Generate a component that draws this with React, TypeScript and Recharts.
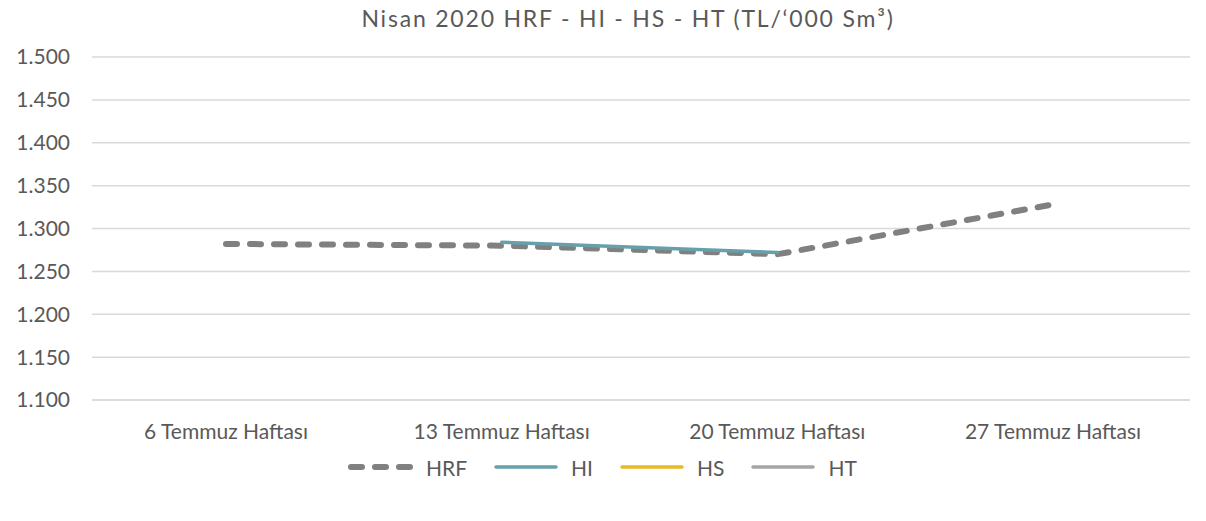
import { LineChart, Line, XAxis, YAxis, CartesianGrid } from 'recharts'

const haftalar = ['6 Temmuz Haftası', '13 Temmuz Haftası', '20 Temmuz Haftası', '27 Temmuz Haftası']
const hrf = [1282, 1280, 1270, 1328]
const hi = [null, 1284, 1272, null]
const hs: (number | null)[] = [null, null, null, null]
const ht: (number | null)[] = [null, null, null, null]
const yTicks = [1100, 1150, 1200, 1250, 1300, 1350, 1400, 1450, 1500]

const seriler = [
  { key: 'HRF', renk: '#808080', kesik: true },
  { key: 'HI', renk: '#66a0ab', kesik: false },
  { key: 'HS', renk: '#e8bb22', kesik: false },
  { key: 'HT', renk: '#a5a5a5', kesik: false },
]

const datos = haftalar.map((h, i) => ({ hafta: h, HRF: hrf[i], HI: hi[i], HS: hs[i], HT: ht[i] }))

const FONT = 'Lato, "Open Sans", sans-serif'
const GRIS = '#595959'

const fmt = (v: number) => v.toLocaleString('de-DE')

export default function App() {
  return (
    <div style={{ position: 'absolute', left: 0, top: 0, width: 1206, height: 521, background: '#fff', fontFamily: FONT }}>
      <div
        style={{
          position: 'absolute',
          top: 4,
          left: 0,
          width: 1256,
          textAlign: 'center',
          fontSize: 23,
          letterSpacing: 1.8,
          color: GRIS,
        }}
      >
        Nisan 2020 HRF - HI - HS - HT (TL/‘000 Sm³)
      </div>
      <LineChart width={1206} height={521} data={datos} margin={{ top: 57, right: 16, bottom: 81, left: 0 }}>
        <CartesianGrid vertical={false} stroke="#d9d9d9" strokeWidth={1.5} />
        <XAxis
          dataKey="hafta"
          height={40}
          padding={{ left: 134, right: 137 }}
          axisLine={{ stroke: '#d9d9d9', strokeWidth: 1.5 }}
          tickLine={false}
          tickMargin={18}
          interval={0}
          tick={{ fill: GRIS, fontSize: 21, fontFamily: FONT }}
        />
        <YAxis
          width={92}
          domain={[1100, 1500]}
          ticks={yTicks}
          axisLine={false}
          tickLine={false}
          tickMargin={16}
          tickFormatter={fmt}
          tick={{ fill: GRIS, fontSize: 21, fontFamily: FONT }}
        />
        {seriler.map((s) => (
          <Line
            key={s.key}
            dataKey={s.key}
            type="linear"
            stroke={s.renk}
            strokeWidth={s.kesik ? 6 : 3.5}
            strokeDasharray={s.kesik ? '11 13' : undefined}
            strokeLinecap="round"
            dot={false}
            activeDot={false}
            isAnimationActive={false}
          />
        ))}
      </LineChart>
      <div
        style={{
          position: 'absolute',
          top: 453,
          left: 346,
          display: 'flex',
          gap: 24,
          fontSize: 21,
          color: GRIS,
        }}
      >
        {seriler.map((s) => (
          <div key={s.key} style={{ display: 'flex', alignItems: 'center', gap: 10 }}>
            <svg width={70} height={28}>
              <line
                x1={5}
                x2={65}
                y1={14}
                y2={14}
                stroke={s.renk}
                strokeWidth={s.kesik ? 6 : 3.5}
                strokeDasharray={s.kesik ? '11 13' : undefined}
                strokeLinecap="round"
              />
            </svg>
            <span>{s.key}</span>
          </div>
        ))}
      </div>
    </div>
  )
}
